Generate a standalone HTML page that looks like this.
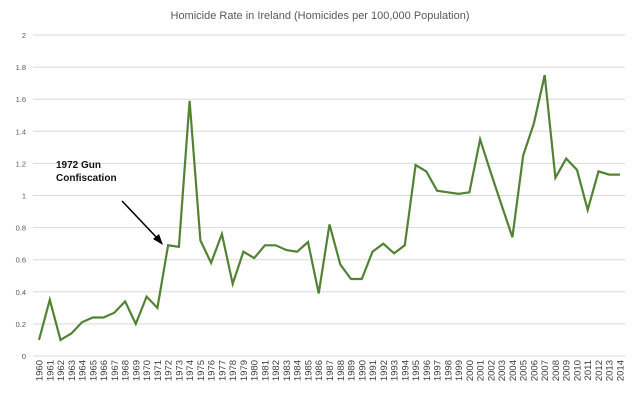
<!DOCTYPE html>
<html><head><meta charset="utf-8"><style>
html,body{margin:0;padding:0;background:#fff;}
svg{display:block;font-family:"Liberation Sans",sans-serif;}
</style></head><body>
<svg id="c" width="640" height="403" viewBox="0 0 640 403" xmlns="http://www.w3.org/2000/svg">
<text x="320" y="19" text-anchor="middle" font-size="11" fill="#595959">Homicide Rate in Ireland (Homicides per 100,000 Population)</text>
<g id="grid"></g>
<g id="xl"></g>
<polyline id="ln" fill="none" stroke="#548235" stroke-width="2.2" stroke-linejoin="miter"/>
<text x="56" y="168" font-size="10" font-weight="bold" fill="#111">1972 Gun</text>
<text x="56" y="181" font-size="10" font-weight="bold" fill="#111">Confiscation</text>
<line x1="122" y1="201" x2="159" y2="240" stroke="#000" stroke-width="1.5"/>
<polygon points="163,245 153,239 159,234" fill="#000"/>
</svg>
<script>
var v=[.10,.35,.10,.14,.21,.24,.24,.27,.34,.20,.37,.30,.69,.68,1.59,.72,.58,.76,.45,.65,.61,.69,.69,.66,.65,.71,.39,.82,.57,.48,.48,.65,.70,.64,.69,1.19,1.15,1.03,1.02,1.01,1.02,1.35,1.14,.94,.74,1.25,1.45,1.75,1.11,1.23,1.16,.91,1.15,1.13,1.13];
var y0=356,ys=160.5,x0=39,xs=581/54,ns="http://www.w3.org/2000/svg";
var g=document.getElementById('grid'),xl=document.getElementById('xl');
for(var i=0;i<=10;i++){var y=y0-i*0.2*ys;
var l=document.createElementNS(ns,'line');l.setAttribute('x1',33);l.setAttribute('x2',625);l.setAttribute('y1',y);l.setAttribute('y2',y);l.setAttribute('stroke','#d9d9d9');l.setAttribute('stroke-width','1');g.appendChild(l);
var t=document.createElementNS(ns,'text');t.setAttribute('x',26);t.setAttribute('y',y+3);t.setAttribute('text-anchor','end');t.setAttribute('font-size','7.5');t.setAttribute('fill','#595959');
var s=(i*0.2).toFixed(1).replace(/\.0$/,'');if(s[0]=='0'&&s.length>1)s=s;t.textContent=i==0?'0':(i%5==0?String(i/5):s);g.appendChild(t);}
var pts=[];
for(var k=0;k<v.length;k++){var x=x0+k*xs;pts.push(x.toFixed(1)+','+(y0-v[k]*ys).toFixed(1));
var t=document.createElementNS(ns,'text');t.setAttribute('transform','translate('+(x+3.5)+',360) rotate(-90)');t.setAttribute('text-anchor','end');t.setAttribute('font-size','9.5');t.setAttribute('fill','#404040');t.textContent=1960+k;xl.appendChild(t);}
document.getElementById('ln').setAttribute('points',pts.join(' '));
</script>
</body></html>
